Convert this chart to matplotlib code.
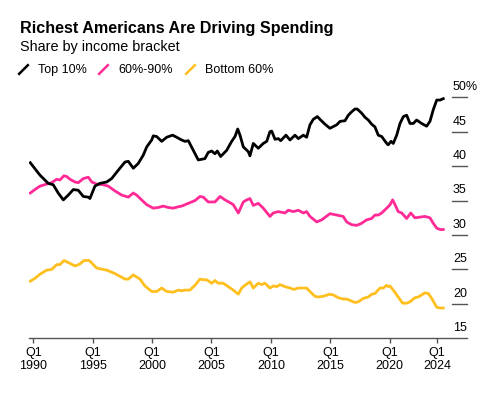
import matplotlib
matplotlib.use('Agg')
import matplotlib.pyplot as plt
import matplotlib.transforms as mtransforms
from matplotlib.lines import Line2D

# ---------------------------------------------------------------------------
# Data (x in decimal years)
# ---------------------------------------------------------------------------
top10_years = [1989.75, 1990.56, 1991.26, 1991.68, 1992.10, 1992.53, 1992.95, 1993.37,
               1993.79, 1994.21, 1994.63, 1994.77, 1995.19, 1995.61, 1996.18, 1996.60,
               1997.15, 1997.72, 1998.00, 1998.42, 1998.84, 1999.26, 1999.55, 1999.97,
               2000.10, 2000.39, 2000.81, 2001.23, 2001.73, 2002.07, 2002.49, 2002.77,
               2003.05, 2003.47, 2003.89, 2004.18, 2004.45, 2004.73, 2005.02, 2005.29,
               2005.49, 2005.77, 2006.28, 2006.70, 2006.98, 2007.21, 2007.40, 2007.68,
               2008.10, 2008.24, 2008.52, 2008.94, 2009.36, 2009.65, 2009.92, 2010.07,
               2010.35, 2010.62, 2010.83, 2011.27, 2011.61, 2012.03, 2012.31, 2012.73,
               2013.01, 2013.29, 2013.57, 2013.91, 2014.13, 2014.55, 2014.97, 2015.54,
               2015.82, 2016.24, 2016.52, 2016.80, 2017.08, 2017.27, 2017.64, 2017.92,
               2018.20, 2018.48, 2018.76, 2019.04, 2019.33, 2019.75, 2019.88, 2020.11,
               2020.30, 2020.59, 2020.87, 2021.15, 2021.43, 2021.71, 2021.99, 2022.27,
               2022.69, 2023.11, 2023.39, 2023.67, 2023.96, 2024.24, 2024.51]
top10_share = [40.5, 38.7, 37.5, 37.3, 36.1, 35.1, 35.8, 36.6,
               36.5, 35.6, 35.5, 35.3, 37.1, 37.5, 37.7, 38.2,
               39.4, 40.6, 40.7, 39.7, 40.4, 41.6, 42.8, 43.8,
               44.4, 44.3, 43.6, 44.2, 44.5, 44.2, 43.8, 43.6,
               43.7, 42.3, 40.9, 41.0, 41.1, 42.0, 42.2, 41.8,
               42.2, 41.4, 42.3, 43.6, 44.3, 45.4, 44.5, 42.8,
               42.1, 41.5, 43.3, 42.6, 43.3, 43.6, 45.0, 45.1,
               43.9, 44.0, 43.7, 44.5, 43.8, 44.5, 44.0, 44.5,
               44.2, 46.0, 46.8, 47.2, 46.8, 46.1, 45.5, 46.0,
               46.5, 46.6, 47.4, 47.9, 48.3, 48.3, 47.7, 47.1,
               46.7, 46.1, 45.7, 44.5, 44.3, 43.3, 43.1, 43.6,
               43.3, 44.5, 46.2, 47.2, 47.4, 46.2, 46.2, 46.7,
               46.2, 45.8, 46.5, 48.2, 49.6, 49.6, 49.8]

mid_years = [1989.75, 1990.14, 1990.56, 1991.13, 1991.55, 1991.97, 1992.25, 1992.58,
             1992.81, 1993.09, 1993.51, 1993.79, 1994.21, 1994.63, 1994.92, 1995.34,
             1995.89, 1996.31, 1996.88, 1997.44, 1998.00, 1998.42, 1998.70, 1999.12,
             1999.55, 2000.10, 2000.52, 2000.94, 2001.36, 2001.78, 2002.21, 2002.49,
             2002.77, 2003.19, 2003.61, 2004.03, 2004.31, 2004.73, 2005.29, 2005.72,
             2006.14, 2006.56, 2006.84, 2007.26, 2007.68, 2007.97, 2008.24, 2008.52,
             2008.94, 2009.36, 2009.92, 2010.20, 2010.62, 2010.91, 2011.19, 2011.46,
             2011.89, 2012.31, 2012.73, 2013.01, 2013.29, 2013.86, 2014.28, 2014.97,
             2015.54, 2016.09, 2016.38, 2016.80, 2017.22, 2017.64, 2018.06, 2018.48,
             2018.76, 2019.04, 2019.33, 2019.75, 2020.03, 2020.25, 2020.45, 2020.72,
             2021.01, 2021.43, 2021.77, 2022.13, 2022.55, 2022.97, 2023.39, 2023.67,
             2023.96, 2024.24, 2024.51]
mid_share = [36.1, 36.6, 37.1, 37.4, 37.6, 38.1, 38.0, 38.6,
             38.5, 38.1, 37.7, 37.6, 38.2, 38.4, 37.7, 37.4,
             37.3, 37.1, 36.4, 35.8, 35.5, 36.1, 35.8, 35.1,
             34.4, 33.9, 34.0, 34.2, 34.0, 33.9, 34.1, 34.2,
             34.4, 34.7, 35.0, 35.6, 35.5, 34.8, 34.8, 35.6,
             35.1, 34.7, 34.4, 33.2, 34.8, 35.1, 35.3, 34.3,
             34.6, 33.9, 32.7, 33.2, 33.4, 33.3, 33.2, 33.6,
             33.4, 33.6, 33.2, 33.4, 32.7, 31.9, 32.2, 33.1,
             32.9, 32.7, 31.9, 31.5, 31.4, 31.7, 32.2, 32.4,
             32.9, 32.9, 33.2, 33.9, 34.4, 35.1, 34.4, 33.4,
             33.2, 32.4, 33.2, 32.5, 32.6, 32.7, 32.5, 31.7,
             31.0, 30.8, 30.8]

bottom_years = [1989.75, 1990.14, 1990.56, 1991.13, 1991.55, 1991.97, 1992.25, 1992.58,
                1992.95, 1993.51, 1993.93, 1994.27, 1994.71, 1995.34, 1995.89, 1996.18,
                1996.88, 1997.30, 1997.72, 1998.00, 1998.42, 1998.98, 1999.40, 1999.97,
                2000.39, 2000.81, 2001.23, 2001.78, 2002.21, 2002.49, 2002.77, 2003.19,
                2003.61, 2004.03, 2004.31, 2004.60, 2005.02, 2005.29, 2005.57, 2005.99,
                2006.41, 2006.84, 2007.26, 2007.54, 2007.82, 2008.24, 2008.52, 2008.94,
                2009.23, 2009.50, 2009.92, 2010.20, 2010.49, 2010.77, 2011.19, 2011.61,
                2011.94, 2012.31, 2012.73, 2013.01, 2013.29, 2013.71, 2013.99, 2014.41,
                2014.92, 2015.25, 2015.67, 2016.09, 2016.38, 2016.80, 2017.08, 2017.36,
                2017.78, 2018.20, 2018.48, 2018.76, 2019.18, 2019.46, 2019.75, 2019.88,
                2020.03, 2020.30, 2020.72, 2021.09, 2021.43, 2021.71, 2022.13, 2022.41,
                2022.69, 2022.97, 2023.25, 2023.54, 2023.96, 2024.24, 2024.51]
bottom_share = [23.3, 23.7, 24.3, 24.9, 25.0, 25.7, 25.7, 26.3,
                26.0, 25.5, 25.8, 26.3, 26.3, 25.2, 25.0, 24.9,
                24.4, 24.0, 23.6, 23.6, 24.2, 23.6, 22.6, 21.8,
                21.8, 22.3, 21.8, 21.7, 22.0, 21.9, 22.0, 22.0,
                22.7, 23.6, 23.5, 23.5, 23.0, 23.4, 23.0, 23.0,
                22.5, 22.0, 21.4, 22.3, 22.7, 23.2, 22.3, 23.0,
                22.8, 23.0, 22.3, 22.6, 22.5, 22.8, 22.5, 22.3,
                22.1, 22.3, 22.3, 22.3, 21.8, 21.1, 21.0, 21.1,
                21.4, 21.3, 20.9, 20.7, 20.7, 20.4, 20.2, 20.3,
                20.8, 21.0, 21.4, 21.5, 22.3, 22.3, 22.7, 22.5,
                22.6, 22.0, 21.0, 20.1, 20.1, 20.3, 20.9, 21.0,
                21.3, 21.6, 21.5, 20.8, 19.5, 19.4, 19.4]

x_ticks = [1990, 1995, 2000, 2005, 2010, 2015, 2020, 2024]
x_labels = ['Q1\n1990', 'Q1\n1995', 'Q1\n2000', 'Q1\n2005',
            'Q1\n2010', 'Q1\n2015', 'Q1\n2020', 'Q1\n2024']
y_ticks = [15, 20, 25, 30, 35, 40, 45, 50]
y_labels = ['15', '20', '25', '30', '35', '40', '45', '50%']

series_names = ['Top 10%', '60%-90%', 'Bottom 60%']
COLORS = ['#000000', '#ff2a96', '#ffbf1f']

# ---------------------------------------------------------------------------
plt.rcParams['font.family'] = ['Liberation Sans', 'DejaVu Sans']

fig = plt.figure(figsize=(4.99, 3.96), dpi=100)
fig.patch.set_facecolor('white')
ax = fig.add_axes([0.0581, 0.1457, 0.8778, 0.6086])
ax.set_facecolor('white')

ax.plot(bottom_years, bottom_share, color=COLORS[2], lw=2.0, solid_joinstyle='round')
ax.plot(mid_years, mid_share, color=COLORS[1], lw=2.0, solid_joinstyle='round')
ax.plot(top10_years, top10_share, color=COLORS[0], lw=2.0, solid_joinstyle='round')

ax.set_xlim(1989.64, 2026.51)
ax.set_ylim(15, 50)

for s in ['top', 'right', 'left']:
    ax.spines[s].set_visible(False)
ax.spines['bottom'].set_color('#555555')
ax.spines['bottom'].set_linewidth(1.0)

ax.set_xticks(x_ticks)
ax.set_xticklabels(x_labels, fontsize=9, linespacing=1.05)
ax.tick_params(axis='x', length=3.5, width=1.0, color='#555555', pad=3)
ax.set_yticks([])

# right-hand value ticks: short rule with label sitting above it
trans = mtransforms.blended_transform_factory(ax.transAxes, ax.transData)
lab_trans = trans + mtransforms.ScaledTranslation(0, 5.2 / 72, fig.dpi_scale_trans)
for v, lab in zip(y_ticks[1:], y_labels[1:]):
    ax.plot([0.966, 1.0], [v, v], transform=trans, color='#555555', lw=1.0,
            clip_on=False)
    ax.text(0.968, v, lab, transform=lab_trans, fontsize=9, ha='left',
            va='baseline', clip_on=False)
ax.text(0.968, y_ticks[0], y_labels[0], transform=lab_trans, fontsize=9,
        ha='left', va='baseline', clip_on=False)

# titles
fig.text(0.040, 0.916, 'Richest Americans Are Driving Spending', fontsize=11.6,
         fontweight='bold', ha='left', va='baseline')
fig.text(0.040, 0.872, 'Share by income bracket', fontsize=10.4,
         ha='left', va='baseline')

handles = [Line2D([], [], color=c, marker=[(-1, -1), (1, 1)], markersize=7.5,
                  markeredgewidth=1.8, linestyle='none') for c in COLORS]
fig.legend(handles, series_names, loc='center left', bbox_to_anchor=(0.034, 0.823),
           ncol=3, frameon=False, fontsize=9, handlelength=0.9, handletextpad=0.75,
           columnspacing=0.9, borderaxespad=0, borderpad=0)

fig.savefig('out.png', dpi=100, facecolor='white')
